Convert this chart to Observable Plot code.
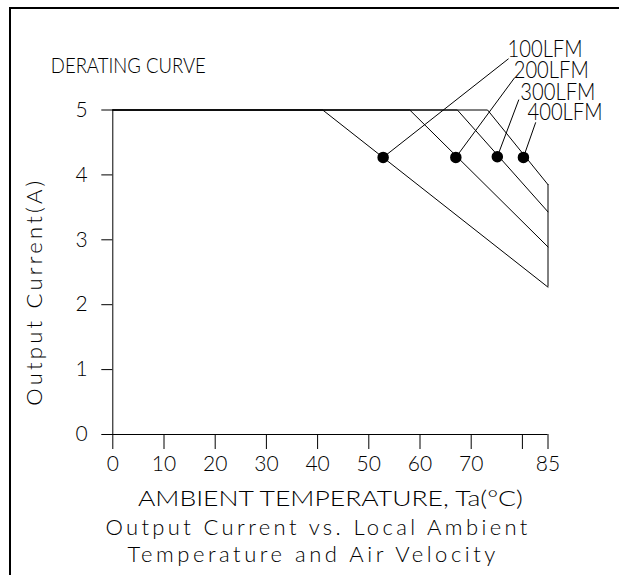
<!DOCTYPE html>
<html><head><meta charset="utf-8">
<script src="https://cdn.jsdelivr.net/npm/d3@7"></script>
<script src="https://cdn.jsdelivr.net/npm/@observablehq/plot@0.6"></script>
<style>
html,body{margin:0;padding:0;background:#fff;}
#wrap{position:relative;width:619px;height:575px;overflow:hidden;background:#fff;}
#border{position:absolute;left:9px;top:7px;width:700px;height:700px;border-top:2px solid #000;border-left:2px solid #000;box-sizing:border-box;}
#chart{position:absolute;left:0;top:0;}
</style></head><body>
<div id="wrap"><div id="border"></div><div id="chart"></div></div>
<script>
// ---- data ----
const airflow = ["100LFM", "200LFM", "300LFM", "400LFM"];
const fullLoad = 5;                          // A, flat part of every curve
const breakTemp = [41, 58, 67.3, 73.2];      // °C where derating starts
const endTemp = 85;
const endCurrent = [2.27, 2.89, 3.43, 3.85]; // A at 85 °C
const dotTemp = [52.8, 67, 75.1, 80.2];
const dotCurrent = [4.27, 4.27, 4.28, 4.27];
const leaderTemp = [77.3, 78.5, 79.3, 82.6];
const leaderCurrent = [5.79, 5.50, 5.16, 4.81];
const labelTemp = [77.1, 78.3, 79.6, 81.0];
const labelCurrent = [5.81, 5.49, 5.16, 4.84];
const xTicks = [0, 10, 20, 30, 40, 50, 60, 70, 80, 85];
const xTickLabels = ["0", "10", "20", "30", "40", "50", "60", "70", "", "85"];
const yTicks = [0, 1, 2, 3, 4, 5];
const yTickLabels = ["0", "1", "2", "3", "4", "5"];
const title = "DERATING CURVE";
const xLabel = "AMBIENT TEMPERATURE, Ta(°C)";
const yLabel = "Output Current(A)";
const caption1 = "Output Current vs. Local Ambient";
const caption2 = "Temperature and Air Velocity";

// ---- tables built from the arrays ----
const curves = airflow.flatMap((a, i) => [
  {a, T: 0, I: fullLoad},
  {a, T: breakTemp[i], I: fullLoad},
  {a, T: endTemp, I: endCurrent[i]}
]);
const points = airflow.map((a, i) => ({
  a, T: dotTemp[i], I: dotCurrent[i],
  lT: leaderTemp[i], lI: leaderCurrent[i],
  tT: labelTemp[i], tI: labelCurrent[i]
}));

const font = "Lato,'Open Sans','Liberation Sans',sans-serif";
const txt = {fill: "#000", fontFamily: font, fontWeight: 300};

const chart = Plot.plot({
  width: 619,
  height: 575,
  marginLeft: 112.3,
  marginRight: 71.5,
  marginTop: 109.5,
  marginBottom: 141,
  x: {domain: [0, 85]},
  y: {domain: [0, 5]},
  style: {background: "transparent", overflow: "visible", color: "#000"},
  marks: [
    Plot.axisX(xTicks, {tickSize: 15, tickPadding: 7, stroke: "#000",
      tickFormat: d => xTickLabels[xTicks.indexOf(d)], fontSize: 21, ...txt}),
    Plot.axisY(yTicks, {tickSize: 11, tickPadding: 14, stroke: "#000",
      tickFormat: d => yTickLabels[yTicks.indexOf(d)], fontSize: 21, ...txt}),
    Plot.ruleY([0], {x1: -2, x2: endTemp, stroke: "#000"}),
    Plot.ruleX([0], {y1: 0, y2: fullLoad, stroke: "#000"}),
    Plot.line(curves, {x: "T", y: "I", z: "a", stroke: "#000", strokeWidth: 1}),
    Plot.ruleX([endTemp], {y1: d3.min(endCurrent), y2: d3.max(endCurrent), stroke: "#000"}),
    Plot.link(points, {x1: "T", y1: "I", x2: "lT", y2: "lI", stroke: "#000", strokeWidth: 1}),
    Plot.dot(points, {x: "T", y: "I", r: 5, fill: "#000", stroke: "#000"}),
    Plot.text(points, {x: "tT", y: "tI", text: "a", textAnchor: "start", lineAnchor: "bottom",
      fontSize: 23, ...txt, className: "t-lfm"}),
    Plot.text([title], {text: d => d, frameAnchor: "top-left", dx: -62, dy: -43.5,
      textAnchor: "start", lineAnchor: "middle", fontSize: 21, ...txt, className: "t-title"}),
    Plot.text([xLabel], {text: d => d, frameAnchor: "bottom", dx: 0, dy: 65,
      textAnchor: "middle", lineAnchor: "middle", fontSize: 21, ...txt, className: "t-xlabel"}),
    Plot.text([caption1], {text: d => d, frameAnchor: "bottom", dx: -14, dy: 93,
      textAnchor: "middle", lineAnchor: "middle", fontSize: 22, ...txt, className: "t-cap1"}),
    Plot.text([caption2], {text: d => d, frameAnchor: "bottom", dx: -19, dy: 120.5,
      textAnchor: "middle", lineAnchor: "middle", fontSize: 22, ...txt, className: "t-cap2"}),
    Plot.text([yLabel], {text: d => d, frameAnchor: "left", dx: -78, dy: 21, rotate: -90,
      textAnchor: "middle", lineAnchor: "middle", fontSize: 22, ...txt, className: "t-ylabel"})
  ]
});

const fit = (cls, len, adjust) => chart.querySelectorAll(`.${cls} text`).forEach(t => {
  t.setAttribute("textLength", len);
  t.setAttribute("lengthAdjust", adjust);
});
fit("t-title", 155, "spacingAndGlyphs");
fit("t-xlabel", 385, "spacingAndGlyphs");
fit("t-cap1", 422, "spacing");
fit("t-cap2", 368, "spacing");
fit("t-ylabel", 225, "spacing");
fit("t-lfm", 75, "spacingAndGlyphs");
document.getElementById("chart").appendChild(chart);
</script>
</body></html>
